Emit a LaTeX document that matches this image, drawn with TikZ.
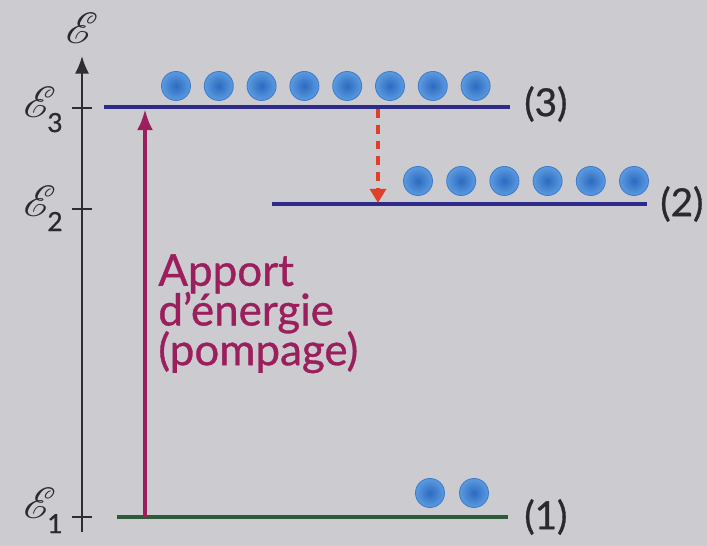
\documentclass[tikz,border=0pt]{standalone}
\usepackage{amsmath}
\usepackage{mathrsfs}
\usepackage{fontspec}
\setmainfont{Lato}
\newfontfamily\lblfont{Lato}[FakeBold=0.8]
\usetikzlibrary{arrows.meta, positioning}
\definecolor{paper}     {HTML}{CBCBD0}
\definecolor{levelblue} {HTML}{2E2A8C}
\definecolor{levelgreen}{HTML}{2F5A3A}
\definecolor{axisgray}  {HTML}{2E2E32}
\definecolor{pumpmag}   {HTML}{9B1F5C}
\definecolor{decayred}  {HTML}{E0402A}
\definecolor{elecout}   {HTML}{5B9BE0}
\definecolor{elecin}    {HTML}{2D6AC0}
\definecolor{elecedge}  {HTML}{3F7CCB}
\definecolor{labeltext} {HTML}{2A2A2E}
\newcommand{\tightlines}{\lineskiplimit=-20pt\relax}
\newcommand{\lvlsub}[1]{\kern-5pt\raisebox{-8pt}{\lblfont\fontsize{15}{16}\selectfont #1}}
\tikzset{
  lvlline/.style={line width=2.2pt, color=levelblue},
  electron/.style={circle, minimum size=0.58cm, inner sep=0pt,
    inner color=elecin, outer color=elecout, draw=elecedge, line width=0.5pt},
  tickmark/.style={line width=1.2pt, color=axisgray},
  energylbl/.style={font=\fontsize{29}{30}\selectfont, text=labeltext, inner sep=0pt},
  levellbl/.style={font=\lblfont\fontsize{22}{24}\selectfont, text=labeltext, inner sep=0pt},
  pumptext/.style={font=\lblfont\fontsize{25}{22.6}\selectfont\tightlines,
    text=pumpmag, align=left, inner sep=0pt},
  axisarr/.style={-{Latex[length=10pt,width=8pt]}, line width=1.2pt, color=axisgray},
  pumparr/.style={-{Latex[length=12pt,width=9pt]}, line width=2.2pt, color=pumpmag},
  decayarr/.style={-{Triangle[length=8pt,width=9pt]}, line width=2.2pt, color=decayred,
    dash pattern=on 5pt off 4pt}
}

\begin{document}
\begin{tikzpicture}[x=0.02cm, y=-0.02cm]

  \fill[paper] (0,0) rectangle (707,546);

  %% ENERGY AXIS
  \coordinate (ax-bot) at (82,532);
  \coordinate (ax-top) at (82,56);
  \draw[axisarr] (ax-bot) -- (ax-top);
  \node[energylbl, above=0.24cm of ax-top] (ax-lbl) {$\mathscr{E}$};

  \foreach \y/\n/\d in {108/3/10, 209/2/8, 517/1/2} {
    \coordinate (tick\n) at (82,\y);
    \draw[tickmark] ([xshift=-0.2cm] tick\n) -- ([xshift=0.2cm] tick\n);
    \node[energylbl, anchor=base east] (lbl-e\n) at ([xshift=-0.38cm, yshift=-\d*0.02cm] tick\n)
      {$\mathscr{E}$\lvlsub{\n}};
  }

  %% LEVELS
  \coordinate (l3w) at (104,107);
  \coordinate (l3e) at (510,107);
  \coordinate (l2w) at (272,204);
  \coordinate (l2e) at (647,204);
  \coordinate (l1w) at (117,517);
  \coordinate (l1e) at (508,517);

  \draw[lvlline] (l3w) -- (l3e);
  \draw[lvlline] (l2w) -- (l2e);
  \draw[lvlline, color=levelgreen] (l1w) -- (l1e);

  \node[levellbl, right=0.28cm of l3e, yshift=0.06cm] (lbl3) {(3)};
  \node[levellbl, right=0.26cm of l2e] (lbl2) {(2)};
  \node[levellbl, right=0.32cm of l1e] (lbl1) {(1)};

  %% ELECTRONS
  \foreach \i in {0,...,7}
    \node[electron] (e3-\i) at (176+42.8*\i, 86) {};
  \foreach \i in {0,...,5}
    \node[electron] (e2-\i) at (418+43.2*\i, 181) {};
  \foreach \i in {0,1}
    \node[electron] (e1-\i) at (430+44*\i, 493) {};

  %% TRANSITIONS
  \coordinate (pump-bot) at (145,517);
  \coordinate (pump-top) at (145,109);
  \draw[pumparr] (pump-bot) -- (pump-top);

  \node[pumptext, anchor=north west] (pump-lbl) at (158,254)
    {Apport\\d’énergie\\(pompage)};

  \coordinate (decay-top) at (378,109);
  \coordinate (decay-bot) at (378,203);
  \draw[decayarr] (decay-top) -- (decay-bot);

\end{tikzpicture}
\end{document}
